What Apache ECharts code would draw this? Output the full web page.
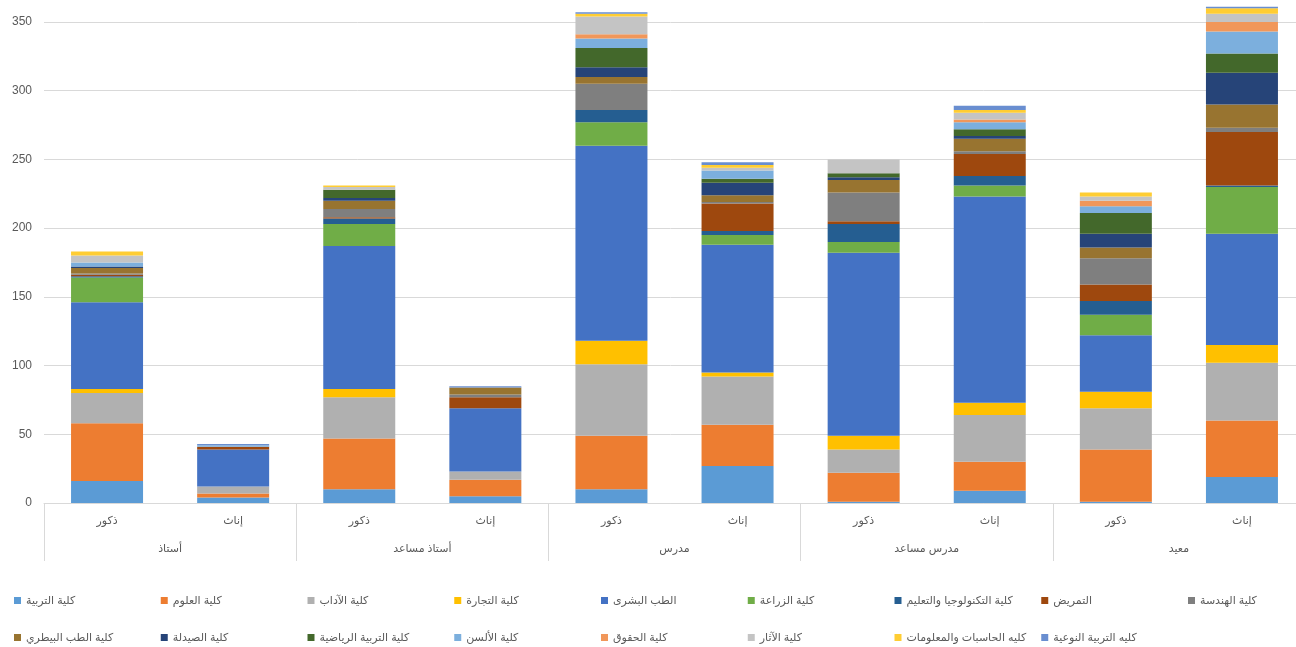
<!DOCTYPE html>
<html>
<head>
<meta charset="utf-8">
<script src="https://cdn.jsdelivr.net/npm/echarts@6/dist/echarts.min.js"></script>
<style>
html,body{margin:0;padding:0;background:#fff;}
#main{width:1296px;height:647px;}
</style>
</head>
<body>
<div id="main"></div>
<script>
// Categories (10 bars, two levels)
const genders = ['ذكور','إناث','ذكور','إناث','ذكور','إناث','ذكور','إناث','ذكور','إناث'];
const groups = ['أستاذ','أستاذ مساعد','مدرس','مدرس مساعد','معيد'];
const yTicks = [0,50,100,150,200,250,300,350];

// Series names
const seriesNames = ['كلية التربية','كلية العلوم','كلية الآداب','كلية التجارة','الطب البشرى','كلية الزراعة','كلية التكنولوجيا والتعليم','التمريض','كلية الهندسة','كلية الطب البيطري','كلية الصيدلة','كلية التربية الرياضية','كلية الألسن','كلية الحقوق','كلية الآثار','كليه الحاسبات والمعلومات','كليه التربية النوعية'];

// Series values (per bar, left to right)
const tarbia     = [16, 4, 10, 5, 10, 27, 1, 9, 1, 19];
const oloom      = [42, 3, 37, 12, 39, 30, 21, 21, 38, 41];
const adab       = [22, 5, 30, 6, 52, 35, 17, 34, 30, 42];
const tegara     = [3, 0, 6, 0, 17, 3, 10, 9, 12, 13];
const tebBashari = [63, 27, 104, 46, 142, 93, 133, 150, 41, 81];
const zeraa      = [18, 0, 16, 0, 17, 7, 8, 8, 15, 34];
const technology = [1, 0, 4, 0, 9, 3, 13, 7, 10, 1];
const tamreed    = [1, 2, 1, 8, 0, 20, 2, 16, 12, 39];
const handasa    = [1, 0, 6, 2, 19, 1, 21, 2, 19, 3];
const baytari    = [4, 0, 6, 5, 5, 5, 9, 9, 8, 17];
const saydala    = [1, 0, 2, 0, 7, 9, 2, 2, 10, 23];
const riyadia    = [0, 0, 6, 0, 14, 3, 3, 5, 15, 14];
const alsun      = [3, 1, 0, 0, 7, 6, 0, 5, 5, 16];
const hoqoq      = [0, 0, 0, 0, 3, 0, 0, 2, 4, 7];
const athar      = [5, 0, 2, 0, 13, 2, 10, 5, 3, 6];
const hasebat    = [3, 0, 1, 0, 2, 2, 0, 2, 3, 4];
const naweya     = [0, 1, 0, 1, 1, 2, 0, 3, 0, 1];

const seriesData = [tarbia, oloom, adab, tegara, tebBashari, zeraa, technology, tamreed, handasa, baytari, saydala, riyadia, alsun, hoqoq, athar, hasebat, naweya];
const colors = ['#5B9BD5','#ED7D31','#B0B0B0','#FFC000','#4472C4','#70AD47','#255E91','#9E480E','#7F7F7F','#987430','#264478','#43682B','#7CAFDD','#F1975A','#C4C4C4','#FFCD33','#698ED0'];

const FONT = 'Arial, "DejaVu Sans", sans-serif';
const chart = echarts.init(document.getElementById('main'), null, {renderer:'canvas'});

const series = seriesNames.map((n, i) => ({
  name: n,
  type: 'bar',
  stack: 'total',
  barWidth: 72,
  data: seriesData[i],
  itemStyle: {color: colors[i]},
  emphasis: {disabled: true},
  xAxisIndex: 0, yAxisIndex: 0
}));

// One legend per item, laid out on a 9-column grid in two rows
const PER_ROW = 9;
const legends = seriesNames.map((n, i) => ({
  orient: 'horizontal',
  left: 9 + (i % PER_ROW) * 146.75,
  top: i < PER_ROW ? 590 : 627,
  itemWidth: 7,
  itemHeight: 7,
  itemGap: 0,
  icon: 'rect',
  selectedMode: false,
  data: [n],
  textStyle: {fontFamily: FONT, fontSize: 11, color: '#595959'}
}));

chart.setOption({
  animation: false,
  color: colors,
  grid: [
    {left: 44, top: 0, height: 503, width: 1261, outerBoundsMode: 'none', containLabel: false},
    {left: 44, top: 0, height: 503, width: 1261, outerBoundsMode: 'none', containLabel: false}
  ],
  legend: legends,
  xAxis: [
    {
      type: 'category', gridIndex: 0, data: genders,
      axisLine: {show: true, lineStyle: {color: '#D9D9D9'}},
      axisTick: {show: false},
      axisLabel: {margin: 12, fontFamily: FONT, fontSize: 11, color: '#595959'}
    },
    {
      type: 'category', gridIndex: 1, data: groups, position: 'bottom',
      axisLine: {show: false},
      axisTick: {show: true, length: 58, interval: 0, lineStyle: {color: '#D9D9D9'}},
      axisLabel: {margin: 40, fontFamily: FONT, fontSize: 11, color: '#595959'}
    }
  ],
  yAxis: [
    {
      type: 'value', gridIndex: 0, min: 0, max: 366, interval: 50,
      axisLine: {show: false}, axisTick: {show: false},
      splitLine: {show: true, showMaxLine: false, lineStyle: {color: '#D9D9D9'}},
      axisLabel: {showMaxLabel: false, margin: 12, fontFamily: FONT, fontSize: 12, color: '#595959',
        formatter: v => (yTicks.indexOf(v) >= 0 ? String(v) : '')}
    },
    {type: 'value', gridIndex: 1, show: false}
  ],
  series: series
});
</script>
</body>
</html>
